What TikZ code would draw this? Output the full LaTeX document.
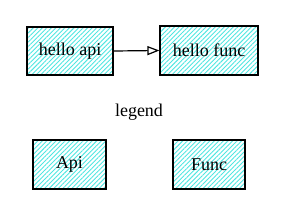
\documentclass[tikz,border=0pt]{standalone}
\usepackage{fontspec}
\setmainfont{Liberation Serif}
\usetikzlibrary{patterns.meta,arrows.meta}
\definecolor{hatch}{RGB}{80,230,225}
\tikzset{
  box/.style={draw=black, line width=1.2pt, rectangle, inner sep=0pt,
    pattern={Lines[angle=45,distance=3.2pt,line width=0.9pt]}, pattern color=hatch,
    font=\fontsize{18}{20}\selectfont},
  lbl/.style={font=\fontsize{18}{20}\selectfont, inner sep=0pt},
  conn/.style={draw=black, line width=1.2pt, -{Triangle[open,length=12pt,width=9pt]}}
}
\begin{document}
\begin{tikzpicture}[x=1pt,y=-1pt]
\useasboundingbox (0,0) rectangle (284,215);
\node[box, minimum width=86pt, minimum height=48pt] (api) at (70,51) {hello api};
\node[box, minimum width=98pt, minimum height=49pt] (func) at (209,50.5) {hello func};
\draw[conn] (api.east) -- (func.west);
\node[lbl] (legend) at (139,112) {legend};
\node[box, minimum width=73pt, minimum height=49pt] (lapi) at (69.5,164.5) {Api};
\node[box, minimum width=72pt, minimum height=49pt] (lfunc) at (209,164.5) {Func};
\end{tikzpicture}
\end{document}
